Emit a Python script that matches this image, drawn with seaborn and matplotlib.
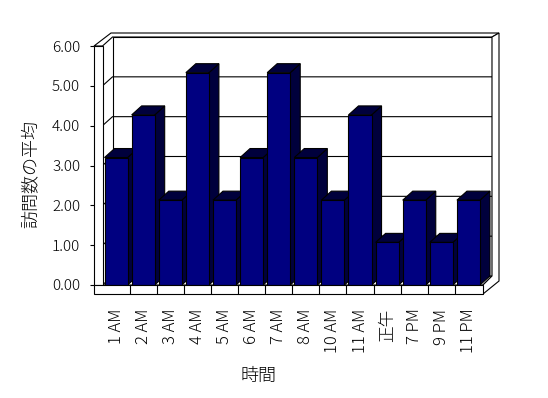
import numpy as np
import pandas as pd
import matplotlib
matplotlib.use("Agg")
import matplotlib.pyplot as plt
import seaborn as sns
from matplotlib.patches import Polygon
from matplotlib.transforms import IdentityTransform

# ---- data ----
hours = ["1 AM", "2 AM", "3 AM", "4 AM", "5 AM", "6 AM", "7 AM", "8 AM",
         "10 AM", "11 AM", "正午", "7 PM", "9 PM", "11 PM"]
avg_visits = [3.2, 4.27, 2.13, 5.33, 2.13, 3.2, 5.33, 3.2, 2.13, 4.27,
              1.07, 2.13, 1.07, 2.13]
y_ticks = [0, 1, 2, 3, 4, 5, 6]
y_tick_labels = ["0.00", "1.00", "2.00", "3.00", "4.00", "5.00", "6.00"]
x_title = "時間"
y_title = "訪問数の平均"

sns.set_theme(style="white")
plt.rcParams['font.family'] = ['Noto Sans CJK JP', 'DejaVu Sans']
plt.rcParams['font.weight'] = 'light'
plt.rcParams['axes.labelweight'] = 'light'

W, H = 548, 398
fig = plt.figure(figsize=(W / 100, H / 100), dpi=100)
fig.patch.set_facecolor("white")
ax = fig.add_axes([102.5 / W, 1 - 285 / H, (482 - 102.5) / W, (285 - 46) / H])

df = pd.DataFrame({"hour": hours, "avg": avg_visits})
sns.barplot(data=df, x="hour", y="avg", color="#000080", saturation=1,
            width=0.85, edgecolor="black", linewidth=0.8, ax=ax)
bars = list(ax.patches)

ax.set_xlim(-0.5, len(hours) - 0.5)
ax.set_ylim(0, 6)
ax.patch.set_visible(False)
for s in ax.spines.values():
    s.set_visible(False)
ax.spines['left'].set_position(('outward', 8.5 * 0.72))
ax.spines['bottom'].set_position(('outward', 9 * 0.72))

ax.set_yticks(y_ticks, y_tick_labels)
ax.set_xticks(range(len(hours)), hours, rotation=90)
ax.tick_params(axis='y', left=True, length=3, width=0.8, color='black',
               direction='out', pad=7, labelsize=11, labelcolor='black')
ax.tick_params(axis='x', bottom=False, length=0, pad=10.5, labelsize=12,
               labelcolor='black')
ax.set_xlabel(x_title, fontsize=13, color='black', fontweight='light')
ax.set_ylabel(y_title, fontsize=13, color='black', fontweight='light')
ax.xaxis.set_label_coords((259 - 102.5) / 379.5, (285 - 375.5) / 239)
ax.xaxis.label.set_va('center')
ax.yaxis.set_label_coords((30.5 - 102.5) / 379.5, (285 - 174) / 239)
ax.yaxis.label.set_va('center')

fig.canvas.draw()
idt = IdentityTransform()
(axL, axB), (axR, axT) = ax.transAxes.transform([(0, 0), (1, 1)])
D1 = (10, 9)     # bar / back-wall inner depth (px)
D2 = (17, 13)    # outer depth including wall thickness
WT = 8.5         # left wall thickness
FT = 9           # floor thickness
LW = 0.8


def poly(pts, z, fc='white', ec='black'):
    ax.add_patch(Polygon(pts, closed=True, transform=idt, fc=fc, ec=ec,
                         lw=LW, zorder=z, clip_on=False, joinstyle='miter'))


def line(xs, ys, z):
    ax.add_line(plt.Line2D(xs, ys, transform=idt, color='black', lw=LW,
                           zorder=z, clip_on=False))


# back wall inner face
poly([(axL + D1[0], axB + D1[1]), (axR + D1[0], axB + D1[1]),
      (axR + D1[0], axT + D1[1]), (axL + D1[0], axT + D1[1])], 0.1)
# gridlines (left wall inner face + back wall)
for v in y_ticks[1:-1]:
    yv = ax.transData.transform((0, v))[1]
    line([axL, axL + D1[0], axR + D1[0], axR + D1[0] + 4],
         [yv, yv + D1[1], yv + D1[1], yv + D1[1] + 3], 0.2)
# floor top
poly([(axL, axB), (axR + 1, axB), (axR + D1[0], axB + D1[1]),
      (axL + D1[0], axB + D1[1])], 0.3)
# top faces of left wall and back wall
poly([(axL - WT, axT), (axL - WT + D2[0], axT + D2[1]),
      (axR + D2[0], axT + D2[1]), (axR + D1[0], axT + D1[1]),
      (axL + D1[0], axT + D1[1]), (axL, axT)], 0.4)
# right side faces of back wall and floor
poly([(axR + D1[0], axT + D1[1]), (axR + D2[0], axT + D2[1]),
      (axR + D2[0], axB - FT + D2[1]), (axR + 1, axB - FT),
      (axR + 1, axB), (axR + D1[0], axB + D1[1])], 0.4)
# left wall front face
poly([(axL - WT, axB), (axL, axB), (axL, axT), (axL - WT, axT)], 5)
# floor front face
poly([(axL - WT, axB - FT), (axR + 1, axB - FT), (axR + 1, axB),
      (axL - WT, axB)], 5)
for i in range(len(hours) - 1):
    xb = ax.transData.transform((i + 0.5, 0))[0]
    line([xb, xb], [axB - FT, axB], 5.1)

# 3-D depth of every bar
side_color = "#00003c"
for i, r in enumerate(bars):
    x0, w, h = r.get_x(), r.get_width(), r.get_height()
    (px0, py0), (px1, py1) = ax.transData.transform([(x0, 0), (x0 + w, h)])
    z = 2 + i * 0.01
    poly([(px1, py0), (px1 + D1[0], py0 + D1[1]),
          (px1 + D1[0], py1 + D1[1]), (px1, py1)], z, fc=side_color)
    poly([(px0, py1), (px1, py1), (px1 + D1[0], py1 + D1[1]),
          (px0 + D1[0], py1 + D1[1])], z + 0.001, fc=side_color)
    r.set_zorder(z + 0.002)

fig.savefig("out.png", dpi=100, facecolor="white")
